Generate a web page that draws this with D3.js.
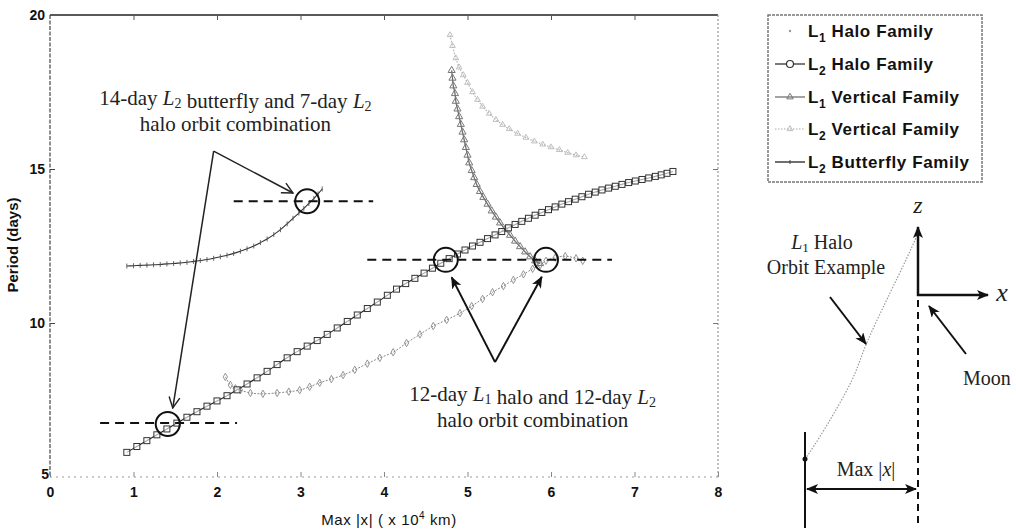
<!DOCTYPE html>
<html><head><meta charset="utf-8">
<script src="https://cdn.jsdelivr.net/npm/d3@7/dist/d3.min.js"></script>
<style>body{margin:0;background:#fff}svg{display:block}</style>
</head><body>
<svg id="c" width="1016" height="532"></svg>
<script>
// ---------- data ----------
const xTicks = [0,1,2,3,4,5,6,7,8];
const yTicks = [5,10,15,20];

const l2Halo = [[0.92,5.80],[1.04,5.99],[1.16,6.18],[1.28,6.37],[1.40,6.56],[1.52,6.75],[1.64,6.94],[1.76,7.12],[1.88,7.30],[2.00,7.47],[2.12,7.64],[2.24,7.83],[2.36,8.02],[2.48,8.22],[2.60,8.43],[2.72,8.65],[2.84,8.87],[2.96,9.07],[3.08,9.25],[3.20,9.43],[3.32,9.63],[3.44,9.84],[3.56,10.05],[3.68,10.26],[3.80,10.47],[3.92,10.68],[4.04,10.90],[4.15,11.10],[4.26,11.28],[4.37,11.45],[4.48,11.62],[4.58,11.78],[4.68,11.94],[4.78,12.09],[4.88,12.24],[4.97,12.37],[5.06,12.50],[5.15,12.62],[5.24,12.74],[5.33,12.86],[5.41,12.97],[5.49,13.09],[5.57,13.20],[5.65,13.30],[5.73,13.40],[5.81,13.50],[5.89,13.59],[5.97,13.68],[6.05,13.77],[6.13,13.86],[6.21,13.94],[6.29,14.02],[6.37,14.10],[6.45,14.18],[6.53,14.25],[6.61,14.32],[6.69,14.38],[6.77,14.44],[6.85,14.50],[6.93,14.56],[7.01,14.61],[7.09,14.66],[7.17,14.71],[7.25,14.76],[7.32,14.81],[7.39,14.86],[7.46,14.92]];

const l2Butterfly = [[0.92,11.85],[1.00,11.86],[1.08,11.87],[1.16,11.88],[1.24,11.89],[1.32,11.90],[1.40,11.92],[1.48,11.93],[1.56,11.95],[1.64,11.97],[1.72,12.00],[1.80,12.03],[1.88,12.06],[1.96,12.10],[2.04,12.15],[2.12,12.20],[2.20,12.26],[2.28,12.33],[2.36,12.41],[2.44,12.50],[2.52,12.61],[2.60,12.73],[2.68,12.87],[2.76,13.03],[2.84,13.22],[2.91,13.40],[2.98,13.57],[3.04,13.72],[3.10,13.88],[3.16,14.04],[3.21,14.19],[3.26,14.35]];

const l1Vertical = [[4.81,18.20],[4.82,17.95],[4.83,17.70],[4.85,17.45],[4.86,17.20],[4.88,16.95],[4.90,16.70],[4.92,16.45],[4.94,16.20],[4.96,15.95],[4.98,15.70],[5.00,15.45],[5.02,15.20],[5.05,14.95],[5.08,14.72],[5.11,14.50],[5.15,14.27],[5.19,14.08],[5.24,13.86],[5.29,13.64],[5.34,13.44],[5.39,13.25],[5.45,13.04],[5.51,12.85],[5.57,12.66],[5.63,12.48],[5.69,12.31],[5.75,12.15],[5.81,12.02],[5.87,11.93]];

const l2Vertical = [[4.79,19.35],[4.82,19.00],[4.86,18.60],[4.90,18.30],[4.95,18.05],[5.00,17.80],[5.06,17.50],[5.12,17.25],[5.18,17.03],[5.26,16.80],[5.34,16.60],[5.42,16.44],[5.50,16.30],[5.60,16.15],[5.70,16.02],[5.80,15.90],[5.90,15.80],[6.00,15.71],[6.10,15.62],[6.20,15.53],[6.30,15.45],[6.40,15.39]];

const l1Halo = [[2.10,8.25],[2.16,7.99],[2.22,7.88],[2.28,7.82],[2.40,7.73],[2.55,7.70],[2.72,7.73],[2.86,7.77],[2.99,7.82],[3.11,7.93],[3.23,8.06],[3.37,8.18],[3.51,8.31],[3.65,8.48],[3.80,8.68],[3.95,8.87],[4.11,9.05],[4.27,9.35],[4.43,9.63],[4.59,9.90],[4.75,10.10],[4.91,10.32],[5.05,10.55],[5.18,10.78],[5.30,11.00],[5.43,11.20],[5.55,11.40],[5.67,11.58],[5.78,11.76],[5.87,11.88],[5.94,12.02],[6.05,12.12],[6.17,12.17],[6.30,12.10],[6.38,12.02]];

// period reference lines: [y, xStart, xEnd]
const refLines = [[13.95,2.20,3.87],[12.05,3.80,6.73],[6.75,0.60,2.24]];
// combination circles: [x, y]
const combos = [[3.08,13.95],[1.41,6.72],[4.74,12.05],[5.94,12.05]];
// annotation arrows: apex and tips (data coords)
const arrowsA = {apex:[1.96,15.58], tips:[[2.91,14.22],[1.47,7.24]]};
const arrowsB = {apex:[5.33,8.73], tips:[[4.81,11.48],[5.89,11.50]]};

const legendItems = ["Halo Family","Halo Family","Vertical Family","Vertical Family","Butterfly Family"];
const legendSubs = ["1","2","1","2","2"];

// ---------- drawing ----------
const svg = d3.select("#c");
const x = d3.scaleLinear([0,8],[50,718]);
const y = d3.scaleLinear([5,20],[477,15]);
const FS = "'Liberation Sans', Arial, sans-serif";
const SERIF = "'Liberation Serif', 'Times New Roman', serif";

const defs = svg.append("defs");
defs.append("marker").attr("id","fill").attr("viewBox","0 0 12 10").attr("refX",11).attr("refY",5)
  .attr("markerWidth",12).attr("markerHeight",10).attr("markerUnits","userSpaceOnUse").attr("orient","auto-start-reverse")
  .append("path").attr("d","M0,0 L12,5 L0,10 L3,5 Z").attr("fill","#111");
defs.append("marker").attr("id","open").attr("viewBox","0 0 12 12").attr("refX",11).attr("refY",6)
  .attr("markerWidth",13).attr("markerHeight",13).attr("markerUnits","userSpaceOnUse").attr("orient","auto")
  .append("path").attr("d","M1,1 L11,6 L1,11").attr("fill","none").attr("stroke","#222").attr("stroke-width",1.3);

// frame
const fr = svg.append("g");
fr.append("line").attr("x1",x(0)).attr("x2",x(8)).attr("y1",y(20)).attr("y2",y(20)).attr("stroke","#222").attr("stroke-width",1.5);
fr.append("line").attr("x1",x(0)).attr("x2",x(0)).attr("y1",y(20)).attr("y2",y(5)).attr("stroke","#444").attr("stroke-width",1.2).attr("stroke-dasharray","4,1.5");
fr.append("line").attr("x1",x(0)).attr("x2",x(8)).attr("y1",y(5)).attr("y2",y(5)).attr("stroke","#999").attr("stroke-width",1).attr("stroke-dasharray","2,4");
fr.append("line").attr("x1",x(8)).attr("x2",x(8)).attr("y1",y(20)).attr("y2",y(5)).attr("stroke","#999").attr("stroke-width",1.2).attr("stroke-dasharray","2,2");

// axes
const gx = svg.append("g").attr("transform",`translate(0,${y(5)})`)
  .call(d3.axisBottom(x).tickValues(xTicks).tickSize(-5).tickPadding(10).tickFormat(d3.format("d")));
const gy = svg.append("g").attr("transform",`translate(${x(0)},0)`)
  .call(d3.axisLeft(y).tickValues(yTicks).tickSize(-5).tickPadding(5).tickFormat(d3.format("d")));
const gt = svg.append("g").attr("transform",`translate(0,${y(20)})`)
  .call(d3.axisTop(x).tickValues(xTicks.slice(1,-1)).tickSize(-5).tickFormat(""));
const gr = svg.append("g").attr("transform",`translate(${x(8)},0)`)
  .call(d3.axisRight(y).tickValues([10,15]).tickSize(-5).tickFormat(""));
[gx,gy,gt,gr].forEach(g=>{g.select(".domain").remove();
  g.selectAll("text").attr("font-family",FS).attr("font-size",14).attr("font-weight","bold").attr("fill","#111");});
gx.selectAll(".tick line").attr("stroke","#888");
gy.selectAll(".tick line").attr("stroke","#444");
gt.selectAll(".tick line").attr("stroke","#555");
gr.selectAll(".tick line").attr("stroke","#777");
gy.selectAll(".tick").filter(d=>d===20||d===5).select("line").remove();
gy.selectAll(".tick").filter(d=>d===5).select("text").attr("x",-1).attr("dy","0.1em");

svg.append("text").attr("transform","translate(18,245) rotate(-90)").attr("text-anchor","middle")
  .attr("font-family",FS).attr("font-size",15).attr("font-weight","bold").attr("fill","#111").text("Period (days)");
const xt = svg.append("text").attr("x",389).attr("y",525).attr("text-anchor","middle")
  .attr("font-family",FS).attr("font-size",15).attr("letter-spacing",0.6).attr("fill","#111");
xt.append("tspan").text("Max |x| ( x 10");
xt.append("tspan").attr("dy",-6).attr("font-size",10).text("4");
xt.append("tspan").attr("dy",6).text(" km)");

const line = d3.line().x(d=>x(d[0])).y(d=>y(d[1]));
const plot = svg.append("g");

// L2 vertical (light gray dotted, small triangles)
plot.append("path").attr("d",line.curve(d3.curveCatmullRom)(l2Vertical)).attr("fill","none").attr("stroke","#b4b4b4").attr("stroke-width",1.2).attr("stroke-dasharray","1.5,1.5");
plot.selectAll(".l2v").data(l2Vertical).join("path").attr("transform",d=>`translate(${x(d[0])},${y(d[1])})`)
  .attr("d",d3.symbol(d3.symbolTriangle,14)).attr("fill","none").attr("stroke","#b8b8b8").attr("stroke-width",0.9);

// L1 halo (gray dotted, small diamonds)
plot.append("path").attr("d",line.curve(d3.curveCatmullRom)(l1Halo)).attr("fill","none").attr("stroke","#8a8a8a").attr("stroke-width",1).attr("stroke-dasharray","2,1.5");
plot.selectAll(".l1h").data(l1Halo).join("path").attr("transform",d=>`translate(${x(d[0])},${y(d[1])})`)
  .attr("d",d3.symbol(d3.symbolDiamond,16)).attr("fill","none").attr("stroke","#8a8a8a").attr("stroke-width",0.9);

// L1 vertical (gray, dense triangles)
plot.append("path").attr("d",line.curve(d3.curveCatmullRom)(l1Vertical)).attr("fill","none").attr("stroke","#6e6e6e").attr("stroke-width",1.3);
plot.selectAll(".l1v").data(l1Vertical).join("path").attr("transform",d=>`translate(${x(d[0])},${y(d[1])})`)
  .attr("d",d3.symbol(d3.symbolTriangle,22)).attr("fill","none").attr("stroke","#777").attr("stroke-width",1);

// L2 butterfly (black, small ticks)
plot.append("path").attr("d",line.curve(d3.curveCatmullRom)(l2Butterfly)).attr("fill","none").attr("stroke","#333").attr("stroke-width",1.1);
plot.selectAll(".l2b").data(l2Butterfly).join("line")
  .attr("x1",d=>x(d[0])).attr("x2",d=>x(d[0])).attr("y1",d=>y(d[1])-2.5).attr("y2",d=>y(d[1])+2.5)
  .attr("stroke","#555").attr("stroke-width",0.9);

// L2 halo (black, open squares)
plot.append("path").attr("d",line.curve(d3.curveCatmullRom)(l2Halo)).attr("fill","none").attr("stroke","#222").attr("stroke-width",1.1);
plot.selectAll(".l2h").data(l2Halo).join("rect")
  .attr("x",d=>x(d[0])-3).attr("y",d=>y(d[1])-3).attr("width",6).attr("height",6)
  .attr("fill","#fff").attr("fill-opacity",0.6).attr("stroke","#333").attr("stroke-width",1);

// reference lines and circles
const ann = svg.append("g");
ann.selectAll(".ref").data(refLines).join("line")
  .attr("x1",d=>x(d[1])).attr("x2",d=>x(d[2])).attr("y1",d=>y(d[0])).attr("y2",d=>y(d[0]))
  .attr("stroke","#111").attr("stroke-width",2).attr("stroke-dasharray","9,6");
ann.selectAll(".cc").data(combos).join("circle")
  .attr("cx",d=>x(d[0])).attr("cy",d=>y(d[1])).attr("r",12)
  .attr("fill","none").attr("stroke","#111").attr("stroke-width",2);

// annotation arrows
arrowsA.tips.forEach(t=>{
  ann.append("line").attr("x1",x(arrowsA.apex[0])).attr("y1",y(arrowsA.apex[1])).attr("x2",x(t[0])).attr("y2",y(t[1]))
    .attr("stroke","#222").attr("stroke-width",1.5).attr("marker-end","url(#open)");
});
arrowsB.tips.forEach(t=>{
  ann.append("line").attr("x1",x(arrowsB.apex[0])).attr("y1",y(arrowsB.apex[1])).attr("x2",x(t[0])).attr("y2",y(t[1]))
    .attr("stroke","#111").attr("stroke-width",2).attr("marker-end","url(#fill)");
});

function richLine(parent, cx, by, parts){
  const t = parent.append("text").attr("x",cx).attr("y",by).attr("text-anchor","middle")
    .attr("font-family",SERIF).attr("font-size",21).attr("fill","#222");
  parts.forEach(p=>{
    if(p.sub){ t.append("tspan").attr("dy",3).attr("font-size",14).text(p.sub);
      t.append("tspan").attr("dy",-3).text(""); }
    else if(p.it){ t.append("tspan").attr("font-style","italic").text(p.it); }
    else t.append("tspan").text(p.t);
  });
  return t;
}
richLine(ann, x(2.22), y(17.08), [{t:"14-day "},{it:"L"},{sub:"2"},{t:" butterfly and 7-day "},{it:"L"},{sub:"2"}]);
richLine(ann, x(2.22), y(16.22), [{t:"halo orbit combination"}]);
richLine(ann, x(5.78), y(7.47), [{t:"12-day "},{it:"L"},{sub:"1"},{t:" halo and 12-day "},{it:"L"},{sub:"2"}]);
richLine(ann, x(5.78), y(6.61), [{t:"halo orbit combination"}]);

// legend
const lg = svg.append("g");
lg.append("rect").attr("x",768).attr("y",15).attr("width",214).attr("height",167)
  .attr("fill","#fff").attr("stroke","#777").attr("stroke-width",1.5).attr("stroke-dasharray","3,1");
const rowY = [31,64,97,129,162];
legendItems.forEach((name,i)=>{
  const yy = rowY[i];
  if(i===0){
    lg.append("circle").attr("cx",790).attr("cy",yy).attr("r",1.2).attr("fill","#999");
  } else if(i===1){
    lg.append("line").attr("x1",775).attr("x2",805).attr("y1",yy).attr("y2",yy).attr("stroke","#333").attr("stroke-width",1.3);
    lg.append("circle").attr("cx",790).attr("cy",yy).attr("r",3.5).attr("fill","#fff").attr("stroke","#333").attr("stroke-width",1.2);
  } else if(i===2){
    lg.append("line").attr("x1",775).attr("x2",805).attr("y1",yy).attr("y2",yy).attr("stroke","#666").attr("stroke-width",1.2);
    lg.append("path").attr("transform",`translate(790,${yy})`).attr("d",d3.symbol(d3.symbolTriangle,18)).attr("fill","none").attr("stroke","#777");
  } else if(i===3){
    lg.append("line").attr("x1",775).attr("x2",805).attr("y1",yy).attr("y2",yy).attr("stroke","#aaa").attr("stroke-width",1.2).attr("stroke-dasharray","1.5,1.5");
    lg.append("path").attr("transform",`translate(790,${yy})`).attr("d",d3.symbol(d3.symbolTriangle,14)).attr("fill","none").attr("stroke","#bbb");
  } else {
    lg.append("line").attr("x1",775).attr("x2",805).attr("y1",yy).attr("y2",yy).attr("stroke","#222").attr("stroke-width",1.3);
    lg.append("line").attr("x1",790).attr("x2",790).attr("y1",yy-2).attr("y2",yy+2).attr("stroke","#444");
  }
  const t = lg.append("text").attr("x",808).attr("y",yy+6).attr("font-family",FS).attr("font-size",17)
    .attr("font-weight","bold").attr("letter-spacing",0.6).attr("fill","#111");
  t.append("tspan").text("L");
  t.append("tspan").attr("dy",5).attr("font-size",12).text(legendSubs[i]);
  t.append("tspan").attr("dy",-5).text(" "+name);
});

// inset schematic (L1 halo orbit example)
const ins = svg.append("g");
const orbitPts = [[805,459],[810,452],[830,420],[852,380],[868,340],[890,293],[905,262],[915,240],[919,231]];
ins.append("path").attr("d",d3.line().curve(d3.curveCatmullRom)(orbitPts)).attr("fill","none")
  .attr("stroke","#999").attr("stroke-width",1.2).attr("stroke-dasharray","1.5,1.5");
ins.append("line").attr("x1",805).attr("x2",805).attr("y1",432).attr("y2",528).attr("stroke","#111").attr("stroke-width",2);
ins.append("circle").attr("cx",805).attr("cy",459).attr("r",2.5).attr("fill","#111");
ins.append("line").attr("x1",918).attr("x2",918).attr("y1",300).attr("y2",528).attr("stroke","#111").attr("stroke-width",2).attr("stroke-dasharray","7,5");
ins.append("line").attr("x1",918).attr("x2",918).attr("y1",296).attr("y2",227).attr("stroke","#111").attr("stroke-width",2.5).attr("marker-end","url(#fill)");
ins.append("line").attr("x1",917).attr("x2",988).attr("y1",295).attr("y2",295).attr("stroke","#111").attr("stroke-width",2.5).attr("marker-end","url(#fill)");
ins.append("line").attr("x1",830).attr("y1",297).attr("x2",866).attr("y2",344).attr("stroke","#111").attr("stroke-width",2).attr("marker-end","url(#fill)");
ins.append("line").attr("x1",966).attr("y1",354).attr("x2",929).attr("y2",306).attr("stroke","#111").attr("stroke-width",2).attr("marker-end","url(#fill)");
ins.append("line").attr("x1",807).attr("y1",489).attr("x2",916).attr("y2",489).attr("stroke","#111").attr("stroke-width",2)
  .attr("marker-start","url(#fill)").attr("marker-end","url(#fill)");
const st = (xx,yy,anchor,size)=>ins.append("text").attr("x",xx).attr("y",yy).attr("text-anchor",anchor)
  .attr("font-family",SERIF).attr("font-size",size).attr("fill","#222");
st(918,213,"middle",24).attr("font-style","italic").text("z");
st(1002,301,"middle",26).attr("font-style","italic").text("x");
const h1 = st(822,249,"middle",20);
h1.append("tspan").attr("font-style","italic").text("L");
h1.append("tspan").attr("dy",3).attr("font-size",13).text("1");
h1.append("tspan").attr("dy",-3).text(" Halo");
st(826,274,"middle",20).text("Orbit Example");
st(963,385,"start",20).text("Moon");
const mx = st(866,476,"middle",20);
mx.append("tspan").text("Max |");
mx.append("tspan").attr("font-style","italic").text("x");
mx.append("tspan").text("|");
</script>
</body></html>
